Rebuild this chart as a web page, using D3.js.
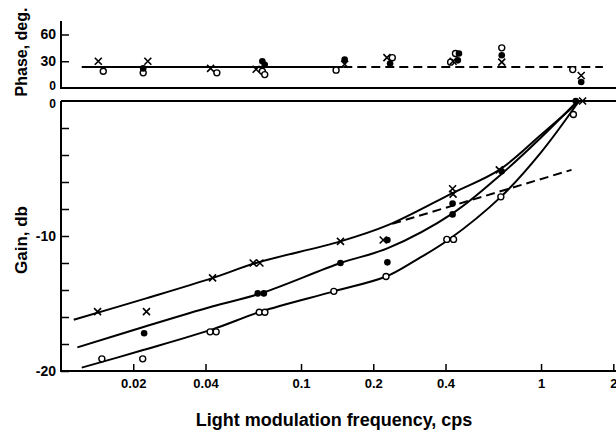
<!DOCTYPE html>
<html><head><meta charset="utf-8">
<script src="https://cdn.jsdelivr.net/npm/d3@7"></script>
<style>
html,body{margin:0;padding:0;background:#fff;}
svg text{font-family:"Liberation Sans",Arial,sans-serif;fill:#000;}
</style></head>
<body><svg id="c" width="616" height="432"></svg>
<script>
// ---- Data ----
const xTicks = [0.02, 0.04, 0.1, 0.2, 0.4, 1, 2];
const xTickLabels = ["0.02", "0.04", "0.1", "0.2", "0.4", "1", "2"];
const gainTicks = [0, -2, -4, -6, -8, -10, -12, -14, -16, -18, -20];
const gainTickLabels = ["0", "", "", "", "", "-10", "", "", "", "", "-20"];
const phaseTicks = [0, 30, 60];
const phaseTickLabels = ["0", "30", "60"];

// Gain points
const crossF = [0.0142, 0.0227, 0.0428, 0.0632, 0.0674, 0.146, 0.220, 0.428, 0.430, 0.67, 1.49];
const crossG = [-15.6, -15.6, -13.1, -12.0, -12.0, -10.4, -10.3, -6.5, -6.9, -5.1, 0];
const dotF = [0.0222, 0.066, 0.070, 0.146, 0.229, 0.229, 0.428, 0.428, 0.685, 1.395];
const dotG = [-17.2, -14.25, -14.25, -12.0, -10.3, -11.95, -7.6, -8.4, -5.2, 0];
const circleF = [0.0148, 0.0219, 0.0418, 0.0443, 0.067, 0.0707, 0.137, 0.226, 0.405, 0.432, 0.68, 1.364];
const circleG = [-19.1, -19.1, -17.1, -17.1, -15.65, -15.65, -14.1, -13.0, -10.25, -10.25, -7.1, -1.0];

// Fitted gain curves
const crossCurveF = [0.0113, 0.0228, 0.043, 0.065, 0.146, 0.23, 0.43, 0.67, 1.0, 1.45];
const crossCurveG = [-16.2, -14.6, -13.1, -12.0, -10.4, -9.2, -6.8, -5.1, -2.5, 0];
const dotCurveF = [0.0117, 0.0224, 0.043, 0.068, 0.146, 0.23, 0.43, 0.685, 1.0, 1.42];
const dotCurveG = [-18.25, -16.7, -15.2, -14.25, -12.0, -10.9, -8.3, -5.4, -2.7, 0];
const circleCurveF = [0.0122, 0.022, 0.043, 0.068, 0.137, 0.226, 0.3, 0.41, 0.68, 1.0, 1.44];
const circleCurveG = [-19.75, -18.45, -16.9, -15.6, -14.1, -13.0, -11.8, -10.3, -7.1, -3.8, 0];
const gainDashF = [0.24, 1.34];
const gainDashG = [-9.1, -5.1];

// Phase points
const phaseCrossF = [0.0143, 0.023, 0.042, 0.065, 0.152, 0.228, 0.43, 0.686, 1.47];
const phaseCrossP = [30, 30, 22, 21, 26.6, 34, 30, 29, 14];
const phaseDotF = [0.022, 0.069, 0.0706, 0.152, 0.235, 0.45, 0.455, 0.686, 1.47];
const phaseDotP = [22, 30, 26, 31.8, 27.4, 31, 38.6, 36.7, 6.7];
const phaseCircleF = [0.015, 0.022, 0.0446, 0.069, 0.0706, 0.14, 0.24, 0.42, 0.44, 0.686, 1.355];
const phaseCircleP = [18.7, 17, 17, 18.7, 15, 20, 34, 29, 38.6, 45, 20.6];
const phaseSolidF = [0.0122, 0.15];
const phaseDashF = [0.15, 1.81];
const phaseLevel = 23.5;

// ---- Drawing ----
const svg = d3.select("#c");
const x = d3.scaleLog().domain([0.01, 2]).range([61, 613.3]);
const yG = d3.scaleLinear().domain([-20, 0]).range([371, 101]);
const yP = d3.scaleLinear().domain([0, 75]).range([88, 21.1]);

const ink = "#000";

// Gain panel axes
const gAx = svg.append("g").attr("transform", "translate(61,0)")
  .call(d3.axisLeft(yG).tickValues(gainTicks).tickSizeInner(-8).tickSizeOuter(0).tickPadding(5)
    .tickFormat((d, i) => gainTickLabels[i]));
const xAx = svg.append("g").attr("transform", "translate(0,371)")
  .call(d3.axisBottom(x).tickValues(xTicks).tickSizeInner(-7).tickSizeOuter(0).tickPadding(8)
    .tickFormat((d, i) => xTickLabels[i]));
const pAx = svg.append("g").attr("transform", "translate(61,0)")
  .call(d3.axisLeft(yP).tickValues(phaseTicks).tickSizeInner(-8).tickSizeOuter(0).tickPadding(5)
    .tickFormat((d, i) => phaseTickLabels[i]));
[gAx, xAx, pAx].forEach(a => {
  a.select(".domain").remove();
  a.selectAll("line").attr("stroke", ink).attr("stroke-width", 1.5);
  a.selectAll("text").attr("font-size", 14).attr("font-weight", "bold").attr("fill", ink);
});
xAx.selectAll("text").attr("font-size", 13);
pAx.selectAll(".tick").filter(d => d === 0).select("line").remove();
gAx.selectAll(".tick").filter(d => d === 0).select("line").remove();
pAx.selectAll(".tick").filter(d => d === 0).select("text").attr("font-size", 12).attr("dy", "0.12em");
gAx.selectAll(".tick").filter(d => d === 0).select("text").attr("font-size", 12).attr("dy", "0.5em");

// frame lines
const frame = svg.append("g").attr("stroke", ink).attr("stroke-width", 2).attr("fill", "none");
frame.append("line").attr("x1", 61).attr("x2", 61).attr("y1", yG(0)).attr("y2", yG(-20) + 1);
frame.append("line").attr("x1", 60).attr("x2", 616).attr("y1", yG(-20)).attr("y2", yG(-20));
frame.append("line").attr("x1", 61).attr("x2", 616).attr("y1", yG(0)).attr("y2", yG(0));
frame.append("line").attr("x1", 61).attr("x2", 61).attr("y1", yP(75)).attr("y2", yP(0));
frame.append("line").attr("x1", 60).attr("x2", 616).attr("y1", yP(0)).attr("y2", yP(0));

// curves
const lineG = d3.line().x(d => x(d[0])).y(d => yG(d[1])).curve(d3.curveCatmullRom.alpha(0.5));
const zip = (a, b) => a.map((v, i) => [v, b[i]]);
const curves = svg.append("g").attr("fill", "none").attr("stroke", ink).attr("stroke-width", 2);
curves.append("path").attr("d", lineG(zip(crossCurveF, crossCurveG)));
curves.append("path").attr("d", lineG(zip(dotCurveF, dotCurveG)));
curves.append("path").attr("d", lineG(zip(circleCurveF, circleCurveG)));
curves.append("path").attr("d", d3.line().x(d => x(d[0])).y(d => yG(d[1]))(zip(gainDashF, gainDashG)))
  .attr("stroke-dasharray", "9,5");

const lineP = d3.line().x(d => x(d)).y(() => yP(phaseLevel));
curves.append("path").attr("d", lineP(phaseSolidF));
curves.append("path").attr("d", lineP(phaseDashF)).attr("stroke-dasharray", "9,5");

// markers
function drawCross(g, fx, fy) {
  g.append("path").attr("d", "M-3.5,-3.5L3.5,3.5M-3.5,3.5L3.5,-3.5")
    .attr("transform", `translate(${fx},${fy})`).attr("stroke", ink).attr("stroke-width", 1.6).attr("fill", "none");
}
const mk = svg.append("g");
function series(fs, vs, yScale, kind) {
  fs.forEach((f, i) => {
    const px = x(f), py = yScale(vs[i]);
    if (kind === "cross") drawCross(mk, px, py);
    else if (kind === "dot") mk.append("circle").attr("cx", px).attr("cy", py).attr("r", 3.3).attr("fill", ink);
    else mk.append("circle").attr("cx", px).attr("cy", py).attr("r", 3).attr("fill", "#fff").attr("stroke", ink).attr("stroke-width", 1.4);
  });
}
series(circleF, circleG, yG, "circle");
series(dotF, dotG, yG, "dot");
series(crossF, crossG, yG, "cross");
series(phaseCircleF, phaseCircleP, yP, "circle");
series(phaseDotF, phaseDotP, yP, "dot");
series(phaseCrossF, phaseCrossP, yP, "cross");

// axis titles
svg.append("text").attr("x", 334).attr("y", 426).attr("text-anchor", "middle")
  .attr("font-size", 18).attr("font-weight", "bold").text("Light modulation frequency, cps");
svg.append("text").attr("transform", "translate(27,240) rotate(-90)").attr("text-anchor", "middle")
  .attr("font-size", 17).attr("font-weight", "bold").text("Gain, db");
svg.append("text").attr("transform", "translate(27,52) rotate(-90)").attr("text-anchor", "middle")
  .attr("font-size", 16).attr("font-weight", "bold").text("Phase, deg.");
</script></body></html>
